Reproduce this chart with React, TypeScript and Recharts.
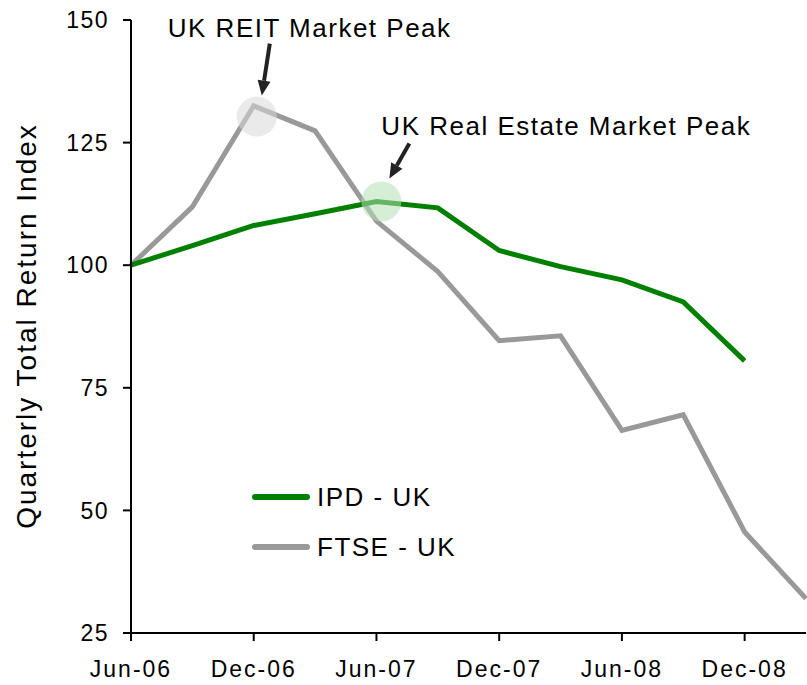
import React from "react";
import { LineChart, Line, XAxis, YAxis, ReferenceDot } from "recharts";

const quarters = ["Jun-06", "Sep-06", "Dec-06", "Mar-07", "Jun-07", "Sep-07", "Dec-07", "Mar-08", "Jun-08", "Sep-08", "Dec-08", "Mar-09"];
const ipdUk = [100, 104.0, 108.1, 110.5, 113.0, 111.7, 103.0, 99.7, 97.0, 92.5, 80.5, null];
const ftseUk = [100, 111.9, 132.5, 127.4, 109.0, 98.7, 84.6, 85.6, 66.3, 69.5, 45.6, 32.0];
const yTicks = [25, 50, 75, 100, 125, 150];
const xTicks = [0, 2, 4, 6, 8, 10];

const data = quarters.map((q, i) => ({ i, q, ipd: ipdUk[i], ftse: ftseUk[i] }));

const FONT = '"Liberation Sans", Arial, sans-serif';
const GREEN = "#008000";
const GREY = "#999999";

const series = [
    { key: "ipd", name: "IPD - UK", color: GREEN },
    { key: "ftse", name: "FTSE - UK", color: GREY },
];

// circle + arrow + caption, offsets relative to the dot centre
function peakShape(text: string, fill: string, tail: number[], tip: number[], textAt: number[]) {
    return (props: any) => {
        const { cx, cy } = props;
        const x1 = cx + tail[0], y1 = cy + tail[1];
        const x2 = cx + tip[0], y2 = cy + tip[1];
        const ang = Math.atan2(y2 - y1, x2 - x1);
        const hl = 15, hw = 6.5;
        const bx = x2 - hl * Math.cos(ang), by = y2 - hl * Math.sin(ang);
        const px = -Math.sin(ang), py = Math.cos(ang);
        const head = `${x2},${y2} ${bx + px * hw},${by + py * hw} ${bx - px * hw},${by - py * hw}`;
        return (
            <g>
                <circle cx={cx} cy={cy} r={20} fill={fill} fillOpacity={0.55} />
                <line x1={x1} y1={y1} x2={bx} y2={by} stroke="#222" strokeWidth={4} />
                <polygon points={head} fill="#222" />
                <text x={cx + textAt[0]} y={cy + textAt[1]} fontSize={26} letterSpacing={1.5} fill="#000" fontFamily={FONT}>
                    {text}
                </text>
            </g>
        );
    };
}

function ChartLegend() {
    return (
        <div style={{ position: "absolute", left: 252, top: 472, fontFamily: FONT }}>
            {series.map((s) => (
                <div key={s.key} style={{ display: "flex", alignItems: "center", height: 50 }}>
                    <div style={{ width: 58, height: 6, borderRadius: 3, background: s.color, marginRight: 7 }} />
                    <span style={{ fontSize: 26, letterSpacing: 1.5, color: "#000" }}>{s.name}</span>
                </div>
            ))}
        </div>
    );
}

export default function App() {
    return (
        <div style={{ position: "absolute", left: 0, top: 0, width: 807, height: 685, background: "#fff" }}>
            <LineChart width={807} height={685} data={data} margin={{ top: 20, right: 1, bottom: 0, left: 0 }}>
                <XAxis
                    dataKey="i"
                    type="number"
                    domain={[0, 11]}
                    ticks={xTicks}
                    tickFormatter={(v: number) => quarters[v]}
                    height={52}
                    tickSize={8}
                    tickMargin={20}
                    stroke="#000"
                    strokeWidth={2}
                    tick={{ fill: "#000", fontSize: 23, letterSpacing: 2, fontFamily: FONT }}
                />
                <YAxis
                    type="number"
                    domain={[25, 150]}
                    ticks={yTicks}
                    width={131}
                    tickSize={8}
                    tickMargin={14}
                    stroke="#000"
                    strokeWidth={2}
                    tick={{ fill: "#000", fontSize: 23, letterSpacing: 1.5, fontFamily: FONT }}
                    label={{
                        content: () => (
                            <text
                                x={26}
                                y={326}
                                transform="rotate(-90 26 326)"
                                textAnchor="middle"
                                dominantBaseline="central"
                                fontSize={28}
                                letterSpacing={2}
                                fill="#000"
                                fontFamily={FONT}
                            >
                                Quarterly Total Return Index
                            </text>
                        ),
                    }}
                />
                <Line dataKey="ftse" name="FTSE - UK" stroke={GREY} strokeWidth={5} dot={false} isAnimationActive={false} />
                <Line dataKey="ipd" name="IPD - UK" stroke={GREEN} strokeWidth={5} dot={false} isAnimationActive={false} connectNulls={false} />
                <ReferenceDot
                    x={2.05}
                    y={130.3}
                    r={20}
                    ifOverflow="visible"
                    shape={peakShape("UK REIT Market Peak", "#d9d9d9", [13, -73], [5, -21], [-89, -80])}
                />
                <ReferenceDot
                    x={4.08}
                    y={113}
                    r={20}
                    ifOverflow="visible"
                    shape={peakShape("UK Real Estate Market Peak", "#b5deb5", [28, -58], [8, -23], [0, -66])}
                />
            </LineChart>
            <ChartLegend />
        </div>
    );
}
